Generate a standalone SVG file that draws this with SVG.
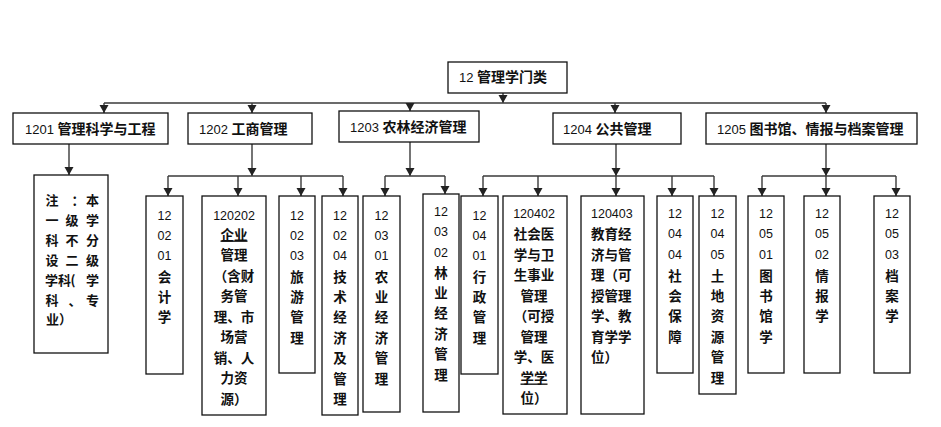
<svg xmlns="http://www.w3.org/2000/svg" width="941" height="427" viewBox="0 0 941 427">
<style>
.box{fill:#fff;stroke:#111;stroke-width:1.3}
.ln{stroke:#3a3a3a;stroke-width:1.4;fill:none}
.ar{stroke:#3a3a3a;stroke-width:1.4;fill:none;marker-end:url(#ah)}
.num{font-family:"Liberation Sans","Noto Sans",sans-serif;font-size:12.5px;fill:#111}
.zh{font-family:"Noto Sans CJK SC",sans-serif;font-weight:bold;font-size:13.5px;fill:#111}
.nt{font-family:"Noto Sans CJK SC",sans-serif;font-weight:bold;font-size:13px;fill:#111;text-anchor:middle}
.l2n{font-family:"Liberation Sans","Noto Sans",sans-serif;font-size:13px;fill:#111}
.l2z{font-family:"Noto Sans CJK SC",sans-serif;font-weight:bold;font-size:14px}
.c{text-anchor:middle}
.u{text-decoration:underline}
</style>
<defs>
<marker id="ah" markerUnits="userSpaceOnUse" markerWidth="9" markerHeight="10" refX="8" refY="4.5" orient="auto">
<path d="M0,0 L8,4.5 L0,9 Z" fill="#222"/>
</marker>
</defs>
<rect width="941" height="427" fill="#fff"/>

<g id="connectors">
<line class="ar" x1="503" y1="93" x2="503" y2="103"/>
<line class="ln" x1="104" y1="103" x2="826" y2="103"/>
<line class="ar" x1="104" y1="103" x2="104" y2="113"/>
<line class="ar" x1="252" y1="103" x2="252" y2="113"/>
<line class="ar" x1="410" y1="103" x2="410" y2="111"/>
<line class="ar" x1="615" y1="103" x2="615" y2="113"/>
<line class="ar" x1="826" y1="103" x2="826" y2="113"/>

<line class="ar" x1="69" y1="144" x2="69" y2="175"/>

<line class="ar" x1="252" y1="144" x2="252" y2="176"/>
<line class="ln" x1="168" y1="176" x2="343" y2="176"/>
<line class="ar" x1="168" y1="176" x2="168" y2="196"/>
<line class="ar" x1="238" y1="176" x2="238" y2="196"/>
<line class="ar" x1="301" y1="176" x2="301" y2="196"/>
<line class="ar" x1="343" y1="176" x2="343" y2="196"/>

<line class="ar" x1="410" y1="142" x2="410" y2="176"/>
<line class="ln" x1="385" y1="176" x2="445" y2="176"/>
<line class="ar" x1="385" y1="176" x2="385" y2="196"/>
<line class="ar" x1="445" y1="176" x2="445" y2="194"/>

<line class="ar" x1="616" y1="144" x2="616" y2="176"/>
<line class="ln" x1="483" y1="176" x2="714" y2="176"/>
<line class="ar" x1="483" y1="176" x2="483" y2="196"/>
<line class="ar" x1="538" y1="176" x2="538" y2="196"/>
<line class="ar" x1="616" y1="176" x2="616" y2="196"/>
<line class="ar" x1="672" y1="176" x2="672" y2="196"/>
<line class="ar" x1="714" y1="176" x2="714" y2="196"/>

<line class="ar" x1="826" y1="144" x2="826" y2="176"/>
<line class="ln" x1="762" y1="176" x2="896" y2="176"/>
<line class="ar" x1="762" y1="176" x2="762" y2="196"/>
<line class="ar" x1="826" y1="176" x2="826" y2="196"/>
<line class="ar" x1="896" y1="176" x2="896" y2="196"/>
</g>

<g id="n12">
<rect class="box" x="448" y="62" width="119" height="31"/>
<text x="459" y="82" class="l2n">12 <tspan class="l2z">管理学门类</tspan></text>
</g>

<g id="n1201">
<rect class="box" x="13" y="113" width="155" height="31"/>
<text x="25" y="134" class="l2n">1201 <tspan class="l2z">管理科学与工程</tspan></text>
</g>
<g id="n1202">
<rect class="box" x="188" y="113" width="124" height="31"/>
<text x="199" y="134" class="l2n">1202 <tspan class="l2z">工商管理</tspan></text>
</g>
<g id="n1203">
<rect class="box" x="339" y="111" width="140" height="31"/>
<text x="350" y="132" class="l2n">1203 <tspan class="l2z">农林经济管理</tspan></text>
</g>
<g id="n1204">
<rect class="box" x="553" y="113" width="128" height="31"/>
<text x="563" y="134" class="l2n">1204 <tspan class="l2z">公共管理</tspan></text>
</g>
<g id="n1205">
<rect class="box" x="706" y="113" width="211" height="31"/>
<text x="717" y="134" class="l2n">1205 <tspan class="l2z">图书馆、情报与档案管理</tspan></text>
</g>

<g id="note">
<rect class="box" x="34" y="175" width="74" height="178"/>
<text class="nt" x="52" y="205">注</text><text class="nt" x="78" y="205">：</text><text class="nt" x="92.5" y="205">本</text>
<text class="nt" x="52" y="225">一</text><text class="nt" x="72" y="225">级</text><text class="nt" x="92.5" y="225">学</text>
<text class="nt" x="52" y="245">科</text><text class="nt" x="72" y="245">不</text><text class="nt" x="92.5" y="245">分</text>
<text class="nt" x="52" y="265">设</text><text class="nt" x="72" y="265">二</text><text class="nt" x="92.5" y="265">级</text>
<text class="nt" x="58" y="285">学科</text><text class="nt" x="73" y="285">(</text><text class="nt" x="92.5" y="285">学</text>
<text class="nt" x="52" y="305">科</text><text class="nt" x="75" y="305">、</text><text class="nt" x="92.5" y="305">专</text>
<text class="nt" style="text-anchor:start" x="46" y="324">业）</text>
</g>

<g id="n120201">
<rect class="box" x="146" y="196" width="37" height="178"/>
<text class="num c" x="164.5" y="219.5">12</text>
<text class="num c" x="164.5" y="239.9">02</text>
<text class="num c" x="164.5" y="260.3">01</text>
<text class="zh c" x="164.5" y="281.5">会</text>
<text class="zh c" x="164.5" y="301.9">计</text>
<text class="zh c" x="164.5" y="322.3">学</text>
</g>

<g id="n120202">
<rect class="box" x="202" y="196" width="64" height="219"/>
<text class="num c" x="234" y="219.5">120202</text>
<text class="zh c u" x="234" y="239.5">企业</text>
<text class="zh c" x="234" y="260">管理</text>
<text class="zh c" x="234" y="280.5">（含财</text>
<text class="zh c" x="234" y="301">务管</text>
<text class="zh c" x="234" y="321.5">理、市</text>
<text class="zh c" x="234" y="342">场营</text>
<text class="zh c" x="234" y="362.5">销、人</text>
<text class="zh c" x="234" y="383">力资</text>
<text class="zh c" x="234" y="403.5">源）</text>
</g>

<g id="n120203">
<rect class="box" x="279" y="196" width="36" height="177"/>
<text class="num c" x="297" y="219.5">12</text>
<text class="num c" x="297" y="239.9">02</text>
<text class="num c" x="297" y="260.3">03</text>
<text class="zh c" x="297" y="281.5">旅</text>
<text class="zh c" x="297" y="301.9">游</text>
<text class="zh c" x="297" y="322.3">管</text>
<text class="zh c" x="297" y="342.7">理</text>
</g>

<g id="n120204">
<rect class="box" x="322" y="196" width="36" height="219"/>
<text class="num c" x="340" y="219.5">12</text>
<text class="num c" x="340" y="239.9">02</text>
<text class="num c" x="340" y="260.3">04</text>
<text class="zh c" x="340" y="281.5">技</text>
<text class="zh c" x="340" y="301.9">术</text>
<text class="zh c" x="340" y="322.3">经</text>
<text class="zh c" x="340" y="342.7">济</text>
<text class="zh c" x="340" y="363.1">及</text>
<text class="zh c" x="340" y="383.5">管</text>
<text class="zh c" x="340" y="403.9">理</text>
</g>

<g id="n120301">
<rect class="box" x="363" y="196" width="37" height="216"/>
<text class="num c" x="381.5" y="219.5">12</text>
<text class="num c" x="381.5" y="239.9">03</text>
<text class="num c" x="381.5" y="260.3">01</text>
<text class="zh c" x="381.5" y="281.5">农</text>
<text class="zh c" x="381.5" y="301.9">业</text>
<text class="zh c" x="381.5" y="322.3">经</text>
<text class="zh c" x="381.5" y="342.7">济</text>
<text class="zh c" x="381.5" y="363.1">管</text>
<text class="zh c" x="381.5" y="383.5">理</text>
</g>

<g id="n120302">
<rect class="box" x="423" y="194" width="36" height="218"/>
<text class="num c" x="441" y="216">12</text>
<text class="num c" x="441" y="236.4">03</text>
<text class="num c" x="441" y="256.8">02</text>
<text class="zh c" x="441" y="277.5">林</text>
<text class="zh c" x="441" y="297.9">业</text>
<text class="zh c" x="441" y="318.3">经</text>
<text class="zh c" x="441" y="338.7">济</text>
<text class="zh c" x="441" y="359.1">管</text>
<text class="zh c" x="441" y="379.5">理</text>
</g>

<g id="n120401">
<rect class="box" x="461" y="196" width="37" height="178"/>
<text class="num c" x="479.5" y="219.5">12</text>
<text class="num c" x="479.5" y="239.9">04</text>
<text class="num c" x="479.5" y="260.3">01</text>
<text class="zh c" x="479.5" y="281.5">行</text>
<text class="zh c" x="479.5" y="301.9">政</text>
<text class="zh c" x="479.5" y="322.3">管</text>
<text class="zh c" x="479.5" y="342.7">理</text>
</g>

<g id="n120402">
<rect class="box" x="503" y="196" width="64" height="218"/>
<text class="num c" x="534" y="218">120402</text>
<text class="zh c" x="534" y="239">社会医</text>
<text class="zh c" x="534" y="259.5">学与卫</text>
<text class="zh c" x="534" y="280">生事业</text>
<text class="zh c" x="534" y="300.5">管理</text>
<text class="zh c" x="534" y="321">（可授</text>
<text class="zh c" x="534" y="341.5">管理</text>
<text class="zh c" x="534" y="362">学、医</text>
<text class="zh c u" x="534" y="382.5">学学</text>
<text class="zh c" x="534" y="403">位）</text>
</g>

<g id="n120403">
<rect class="box" x="581" y="196" width="63" height="218"/>
<text class="num" x="591" y="218">120403</text>
<text class="zh" x="591" y="239">教育经</text>
<text class="zh" x="591" y="259.5">济与管</text>
<text class="zh" x="591" y="280">理（可</text>
<text class="zh" x="591" y="300.5">授管理</text>
<text class="zh" x="591" y="321">学、教</text>
<text class="zh" x="591" y="341.5">育学学</text>
<text class="zh" x="591" y="362">位）</text>
</g>

<g id="n120404">
<rect class="box" x="657" y="196" width="36" height="177"/>
<text class="num c" x="675" y="218">12</text>
<text class="num c" x="675" y="238.4">04</text>
<text class="num c" x="675" y="258.8">04</text>
<text class="zh c" x="675" y="280.5">社</text>
<text class="zh c" x="675" y="300.9">会</text>
<text class="zh c" x="675" y="321.3">保</text>
<text class="zh c" x="675" y="341.7">障</text>
</g>

<g id="n120405">
<rect class="box" x="699" y="196" width="37" height="198"/>
<text class="num c" x="717.5" y="218">12</text>
<text class="num c" x="717.5" y="238.4">04</text>
<text class="num c" x="717.5" y="258.8">05</text>
<text class="zh c" x="717.5" y="280.5">土</text>
<text class="zh c" x="717.5" y="300.9">地</text>
<text class="zh c" x="717.5" y="321.3">资</text>
<text class="zh c" x="717.5" y="341.7">源</text>
<text class="zh c" x="717.5" y="362.1">管</text>
<text class="zh c" x="717.5" y="382.5">理</text>
</g>

<g id="n120501">
<rect class="box" x="748" y="196" width="36" height="177"/>
<text class="num c" x="766" y="218">12</text>
<text class="num c" x="766" y="238.4">05</text>
<text class="num c" x="766" y="258.8">01</text>
<text class="zh c" x="766" y="280.5">图</text>
<text class="zh c" x="766" y="300.9">书</text>
<text class="zh c" x="766" y="321.3">馆</text>
<text class="zh c" x="766" y="341.7">学</text>
</g>

<g id="n120502">
<rect class="box" x="804" y="196" width="36" height="177"/>
<text class="num c" x="822" y="218">12</text>
<text class="num c" x="822" y="238.4">05</text>
<text class="num c" x="822" y="258.8">02</text>
<text class="zh c" x="822" y="280.5">情</text>
<text class="zh c" x="822" y="300.9">报</text>
<text class="zh c" x="822" y="321.3">学</text>
</g>

<g id="n120503">
<rect class="box" x="874" y="196" width="36" height="177"/>
<text class="num c" x="892" y="218">12</text>
<text class="num c" x="892" y="238.4">05</text>
<text class="num c" x="892" y="258.8">03</text>
<text class="zh c" x="892" y="280.5">档</text>
<text class="zh c" x="892" y="300.9">案</text>
<text class="zh c" x="892" y="321.3">学</text>
</g>
</svg>
